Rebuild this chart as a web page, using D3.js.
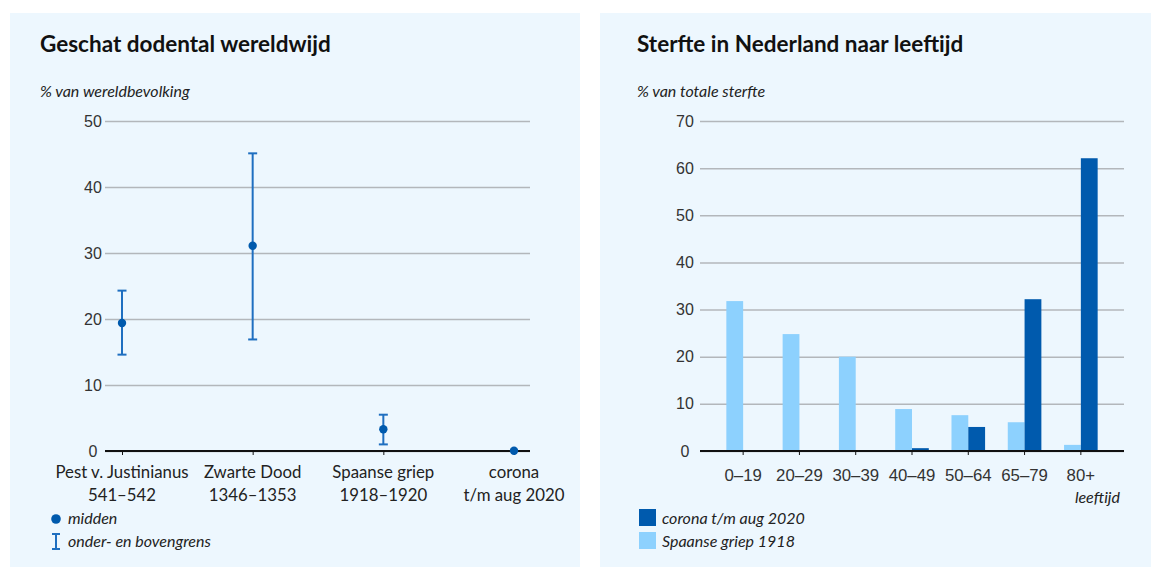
<!DOCTYPE html>
<html>
<head>
<meta charset="utf-8">
<script src="https://cdn.jsdelivr.net/npm/d3@7"></script>
<style>
  body { margin: 0; background: #fff; }
  svg { font-family: Lato, "Open Sans", sans-serif; }
  .tick text { fill: #333; }
</style>
</head>
<body>
<div class="container"></div>
<script>
// left chart: estimated world death toll (% of world population)
const pandemics = ["Pest v. Justinianus", "Zwarte Dood", "Spaanse griep", "corona"];
const pandemicYears = ["541–542", "1346–1353", "1918–1920", "t/m aug 2020"];
const deathMid = [19.4, 31.1, 3.3, 0.03];
const deathLow = [14.6, 16.9, 1.0, null];
const deathHigh = [24.3, 45.1, 5.5, null];
const leftTicks = [0, 10, 20, 30, 40, 50];

// right chart: mortality in the Netherlands by age
const ageGroups = ["0–19", "20–29", "30–39", "40–49", "50–64", "65–79", "80+"];
const seriesNames = ["Spaanse griep 1918", "corona t/m aug 2020"];
const spanishFlu = [31.8, 24.8, 20.0, 8.9, 7.6, 6.1, 1.3];
const corona = [0, 0, 0.1, 0.6, 5.1, 32.2, 62.1];
const rightTicks = [0, 10, 20, 30, 40, 50, 60, 70];

const bg = "#edf7fe";
const gridColor = "#b3b7bb";
const darkBlue = "#005aad";
const midBlue = "#1f6fc0";
const lightBlue = "#8dd1fe";

let svg = d3.select(".container")
  .append("svg")
  .attr("width", 1153)
  .attr("height", 569);

// panels
svg.append("rect").attr("x", 10).attr("y", 13).attr("width", 570).attr("height", 554).attr("fill", bg);
svg.append("rect").attr("x", 600).attr("y", 13).attr("width", 551).attr("height", 554).attr("fill", bg);

function titles(x, title, sub) {
  svg.append("text").attr("x", x).attr("y", 52)
    .attr("font-size", 22.5).attr("font-weight", 700).attr("fill", "#111")
    .text(title);
  svg.append("text").attr("x", x).attr("y", 97)
    .attr("font-size", 16).attr("font-style", "italic").attr("fill", "#222")
    .text(sub);
}

// ---------- left chart ----------
titles(40, "Geschat dodental wereldwijd", "% van wereldbevolking");

let yL = d3.scaleLinear().domain([0, 50]).range([451, 121]);
let xL = d3.scalePoint().domain(pandemics).range([122, 514]);

let gridL = svg.append("g")
  .attr("transform", "translate(105,0)")
  .call(d3.axisLeft(yL).tickValues(leftTicks).tickSize(-425).tickPadding(22));
gridL.select(".domain").remove();
gridL.selectAll(".tick line").attr("stroke", gridColor).attr("stroke-width", 1.5);
gridL.selectAll(".tick text").attr("font-size", 16).attr("text-anchor", "middle").attr("dx", 10);

let axisL = svg.append("g")
  .attr("transform", "translate(0,451)")
  .call(d3.axisBottom(xL).tickSize(4).tickFormat(""));
axisL.select(".domain").attr("d", "M105,0H530").attr("stroke", "#111").attr("stroke-width", 2);
axisL.selectAll(".tick line").attr("stroke", "#111");

pandemics.forEach((p, i) => {
  svg.append("text").attr("x", xL(p)).attr("y", 478)
    .attr("text-anchor", "middle").attr("font-size", 16.8).attr("fill", "#222").text(p);
  svg.append("text").attr("x", xL(p)).attr("y", 501)
    .attr("text-anchor", "middle").attr("font-size", 16.8).attr("fill", "#222").text(pandemicYears[i]);
});

let bars = pandemics.map((p, i) => ({ p: p, lo: deathLow[i], hi: deathHigh[i], mid: deathMid[i] }))
  .filter(d => d.lo !== null);

let eb = svg.append("g").attr("stroke", midBlue).attr("stroke-width", 2);
eb.selectAll(".whisker").data(bars).enter().append("line")
  .attr("x1", d => xL(d.p)).attr("x2", d => xL(d.p))
  .attr("y1", d => yL(d.lo)).attr("y2", d => yL(d.hi));
eb.selectAll(".capLo").data(bars).enter().append("line")
  .attr("x1", d => xL(d.p) - 4.5).attr("x2", d => xL(d.p) + 4.5)
  .attr("y1", d => yL(d.lo)).attr("y2", d => yL(d.lo));
eb.selectAll(".capHi").data(bars).enter().append("line")
  .attr("x1", d => xL(d.p) - 4.5).attr("x2", d => xL(d.p) + 4.5)
  .attr("y1", d => yL(d.hi)).attr("y2", d => yL(d.hi));

svg.selectAll(".mid").data(deathMid).enter().append("circle")
  .attr("cx", (d, i) => xL(pandemics[i]))
  .attr("cy", d => yL(d))
  .attr("r", 4.2)
  .attr("fill", darkBlue);

// legend left
svg.append("circle").attr("cx", 56).attr("cy", 519).attr("r", 4.8).attr("fill", darkBlue);
svg.append("text").attr("x", 68).attr("y", 524).attr("font-size", 16).attr("font-style", "italic").attr("fill", "#222").text("midden");
let lg = svg.append("g").attr("stroke", midBlue).attr("stroke-width", 2);
lg.append("line").attr("x1", 56).attr("x2", 56).attr("y1", 534).attr("y2", 549);
lg.append("line").attr("x1", 52).attr("x2", 60).attr("y1", 534).attr("y2", 534);
lg.append("line").attr("x1", 52).attr("x2", 60).attr("y1", 549).attr("y2", 549);
svg.append("text").attr("x", 68).attr("y", 547).attr("font-size", 16).attr("font-style", "italic").attr("fill", "#222").text("onder- en bovengrens");

// ---------- right chart ----------
titles(637, "Sterfte in Nederland naar leeftijd", "% van totale sterfte");

let yR = d3.scaleLinear().domain([0, 70]).range([451, 121]);
let x0 = d3.scaleBand().domain(ageGroups).range([715, 1109]);
let x1 = d3.scaleBand().domain(seriesNames)
  .range([x0.bandwidth() / 2 - 16.8, x0.bandwidth() / 2 + 16.8]);

let gridR = svg.append("g")
  .attr("transform", "translate(700,0)")
  .call(d3.axisLeft(yR).tickValues(rightTicks).tickSize(-424).tickPadding(25));
gridR.select(".domain").remove();
gridR.selectAll(".tick line").attr("stroke", gridColor).attr("stroke-width", 1.5);
gridR.selectAll(".tick text").attr("font-size", 16).attr("text-anchor", "middle").attr("dx", 10);

let seriesData = [spanishFlu, corona];
let colors = [lightBlue, darkBlue];
seriesData.forEach((vals, s) => {
  svg.selectAll(`.bar${s}`).data(vals).enter().append("rect")
    .attr("class", `bar${s}`)
    .attr("x", (d, i) => x0(ageGroups[i]) + x1(seriesNames[s]))
    .attr("y", d => yR(d))
    .attr("width", x1.bandwidth())
    .attr("height", d => yR(0) - yR(d))
    .attr("fill", colors[s]);
});

let axisR = svg.append("g")
  .attr("transform", "translate(0,451)")
  .call(d3.axisBottom(x0).tickSize(4).tickPadding(14));
axisR.select(".domain").attr("d", "M700,0H1124").attr("stroke", "#111").attr("stroke-width", 2);
axisR.selectAll(".tick line").attr("stroke", "#111");
axisR.selectAll(".tick text").attr("font-size", 16.8).attr("fill", "#222");

svg.append("text").attr("x", 1120).attr("y", 503).attr("text-anchor", "end")
  .attr("font-size", 16).attr("font-style", "italic").attr("fill", "#222").text("leeftijd");

// legend right
let legendR = [
  { name: seriesNames[1], color: darkBlue, y: 509 },
  { name: seriesNames[0], color: lightBlue, y: 532 }
];
legendR.forEach(d => {
  svg.append("rect").attr("x", 639).attr("y", d.y).attr("width", 17).attr("height", 17).attr("fill", d.color);
  svg.append("text").attr("x", 662).attr("y", d.y + 15).attr("font-size", 16)
    .attr("font-style", "italic").attr("fill", "#222").text(d.name);
});
</script>
</body>
</html>
